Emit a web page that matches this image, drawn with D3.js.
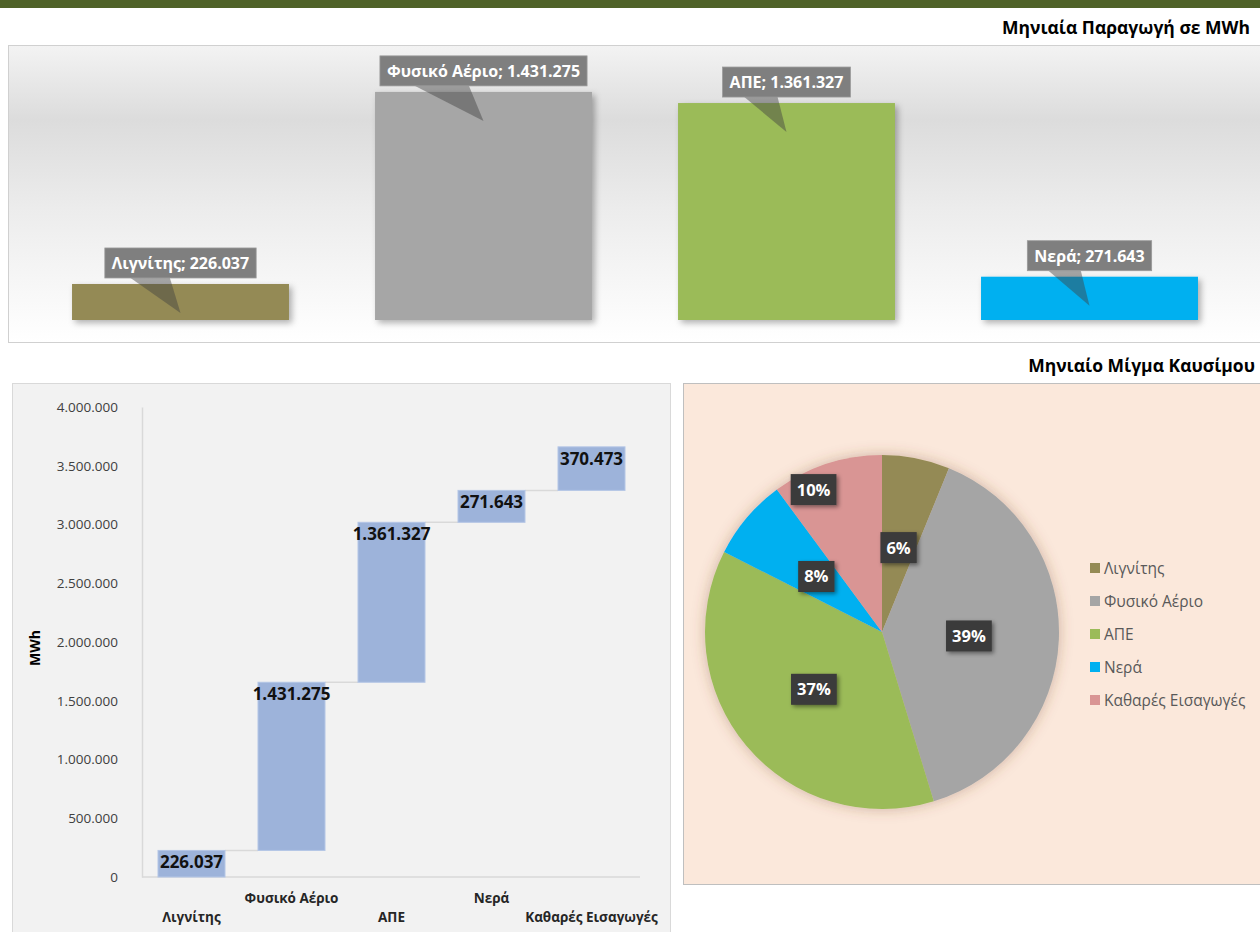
<!DOCTYPE html>
<html><head><meta charset="utf-8">
<script src="https://cdn.jsdelivr.net/npm/d3@7"></script>
<style>
html,body{margin:0;padding:0;background:#fff;}
svg{display:block;font-family:"Open Sans","Noto Sans",sans-serif;}
</style></head>
<body>
<svg id="c" width="1260" height="932"></svg>
<script>
// ---- data ----
const topCategories = ["Λιγνίτης", "Φυσικό Αέριο", "ΑΠΕ", "Νερά"];
const topValues = [226037, 1431275, 1361327, 271643];
const topColors = ["#948a54", "#a6a6a6", "#9bbb59", "#00b0f0"];

const wfCategories = ["Λιγνίτης", "Φυσικό Αέριο", "ΑΠΕ", "Νερά", "Καθαρές Εισαγωγές"];
const wfValues = [226037, 1431275, 1361327, 271643, 370473];
const wfTicks = [0, 500000, 1000000, 1500000, 2000000, 2500000, 3000000, 3500000, 4000000];

const pieCategories = ["Λιγνίτης", "Φυσικό Αέριο", "ΑΠΕ", "Νερά", "Καθαρές Εισαγωγές"];
const pieValues = [226037, 1431275, 1361327, 271643, 370473];
const pieLabels = ["6%", "39%", "37%", "8%", "10%"];
const pieColors = ["#948a54", "#a5a5a5", "#9bbb59", "#00b0f0", "#d99594"];

const title1 = "Μηνιαία Παραγωγή σε MWh";
const title2 = "Μηνιαίο Μίγμα Καυσίμου";

const loc = d3.formatLocale({decimal: ",", thousands: ".", grouping: [3], currency: ["", "€"]});
const fmt = loc.format(",d");

const svg = d3.select("#c");
const defs = svg.append("defs");
const g1 = defs.append("linearGradient").attr("id", "topbg").attr("x1", 0).attr("y1", 0).attr("x2", 0).attr("y2", 1);
g1.append("stop").attr("offset", "0%").attr("stop-color", "#f3f3f3");
g1.append("stop").attr("offset", "25%").attr("stop-color", "#dcdcdc");
g1.append("stop").attr("offset", "55%").attr("stop-color", "#ececec");
g1.append("stop").attr("offset", "100%").attr("stop-color", "#ffffff");
const sh = defs.append("filter").attr("id", "shadow").attr("x", "-20%").attr("y", "-20%").attr("width", "150%").attr("height", "150%");
sh.append("feDropShadow").attr("dx", 3).attr("dy", 3).attr("stdDeviation", 3).attr("flood-color", "#000").attr("flood-opacity", 0.3);
const glow = defs.append("filter").attr("id", "glow").attr("x", "-20%").attr("y", "-20%").attr("width", "140%").attr("height", "140%");
glow.append("feDropShadow").attr("dx", 0).attr("dy", 0).attr("stdDeviation", 7).attr("flood-color", "#7a4a2a").attr("flood-opacity", 0.35);
const lsh = defs.append("filter").attr("id", "lshadow").attr("x", "-30%").attr("y", "-30%").attr("width", "170%").attr("height", "170%");
lsh.append("feDropShadow").attr("dx", 2).attr("dy", 2).attr("stdDeviation", 2).attr("flood-color", "#000").attr("flood-opacity", 0.45);

// header strip
svg.append("rect").attr("x", 0).attr("y", 0).attr("width", 1260).attr("height", 8).attr("fill", "#4f6228");

svg.append("text").attr("x", 1250).attr("y", 34).attr("text-anchor", "end")
  .attr("font-size", 17.5).attr("font-weight", "bold").attr("fill", "#000").text(title1);

// ---- top bar chart ----
svg.append("rect").attr("x", 8.5).attr("y", 45.5).attr("width", 1260).attr("height", 297)
  .attr("fill", "url(#topbg)").attr("stroke", "#d0d0d0");

const xTop = d3.scaleBand().domain(topCategories).range([29, 1241]).paddingInner(0.284).paddingOuter(0.142);
const yTop = d3.scaleLinear().domain([0, 1600000]).range([320, 65]);

svg.append("g").selectAll("rect").data(topCategories).join("rect")
  .attr("x", d => xTop(d)).attr("width", xTop.bandwidth())
  .attr("y", (d, i) => yTop(topValues[i])).attr("height", (d, i) => yTop(0) - yTop(topValues[i]))
  .attr("fill", (d, i) => topColors[i]).attr("filter", "url(#shadow)");

const callouts = svg.append("g");
topCategories.forEach((c, i) => {
  const cx = xTop(c) + xTop.bandwidth() / 2;
  const top = yTop(topValues[i]);
  const txt = c + "; " + fmt(topValues[i]);
  const grp = callouts.append("g");
  const t = grp.append("text").attr("x", cx).attr("y", top - 15).attr("text-anchor", "middle")
    .attr("font-size", 16).attr("font-weight", "bold").attr("fill", "#fff").text(txt);
  const w = t.node().getComputedTextLength() + 14;
  const bx = cx - w / 2, by = top - 36, bh = 30;
  grp.insert("path", "text").attr("d", `M${bx + 0.17 * w},${by + bh} L${cx},${top + 29} L${bx + 0.43 * w},${by + bh} Z`)
    .attr("fill", "#404040").attr("fill-opacity", 0.45);
  grp.insert("rect", "text").attr("x", bx).attr("y", by).attr("width", w).attr("height", bh)
    .attr("fill", "#7f7f7f").attr("stroke", "#9a9a9a").attr("stroke-width", 0.8);
});

// second title
svg.append("text").attr("x", 1255).attr("y", 372).attr("text-anchor", "end")
  .attr("font-size", 17.5).attr("font-weight", "bold").attr("fill", "#000").text(title2);

// ---- waterfall ----
svg.append("rect").attr("x", 12.5).attr("y", 383.5).attr("width", 658).attr("height", 560)
  .attr("fill", "#f2f2f2").attr("stroke", "#d9d9d9");

const yW = d3.scaleLinear().domain([0, 4000000]).range([877, 407]);
const xW = d3.scaleBand().domain(wfCategories).range([141.5, 641.5]).paddingInner(0.33).paddingOuter(0.165);

const yAxis = d3.axisLeft(yW).tickValues(wfTicks).tickFormat(fmt).tickSize(0).tickPadding(24);
const ya = svg.append("g").attr("transform", "translate(142,0)").call(yAxis);
ya.select(".domain").attr("stroke", "#d9d9d9").attr("stroke-width", 1.5);
ya.selectAll("text").attr("font-size", 13.5).attr("fill", "#404040").attr("font-family", "'Open Sans',sans-serif");

svg.append("line").attr("x1", 142).attr("x2", 640).attr("y1", yW(0)).attr("y2", yW(0))
  .attr("stroke", "#d9d9d9").attr("stroke-width", 1.5);

svg.append("text").attr("transform", `translate(40,${(yW(0) + yW(4000000)) / 2 + 6}) rotate(-90)`)
  .attr("text-anchor", "middle").attr("font-size", 14).attr("font-weight", "bold").attr("fill", "#000").text("MWh");

const cum = [];
wfValues.reduce((acc, v, i) => { cum.push([acc, acc + v]); return acc + v; }, 0);

// connectors
svg.append("g").selectAll("line").data(wfCategories.slice(0, -1)).join("line")
  .attr("x1", d => xW(d) + xW.bandwidth())
  .attr("x2", (d, i) => xW(wfCategories[i + 1]))
  .attr("y1", (d, i) => yW(cum[i][1])).attr("y2", (d, i) => yW(cum[i][1]))
  .attr("stroke", "#d9d9d9").attr("stroke-width", 1.5);

svg.append("g").selectAll("rect").data(wfCategories).join("rect")
  .attr("x", d => xW(d)).attr("width", xW.bandwidth())
  .attr("y", (d, i) => yW(cum[i][1])).attr("height", (d, i) => yW(cum[i][0]) - yW(cum[i][1]))
  .attr("fill", "#9db3da").attr("stroke", "#b4c6e6").attr("stroke-width", 1);

svg.append("g").selectAll("text").data(wfCategories).join("text")
  .attr("x", d => xW(d) + xW.bandwidth() / 2).attr("y", (d, i) => yW(cum[i][1]) + 18)
  .attr("text-anchor", "middle").attr("font-size", 17).attr("font-weight", "bold").attr("fill", "#111")
  .text((d, i) => fmt(wfValues[i]));

svg.append("g").selectAll("text").data(wfCategories).join("text")
  .attr("x", d => xW(d) + xW.bandwidth() / 2).attr("y", (d, i) => i % 2 === 0 ? 922 : 903)
  .attr("text-anchor", "middle").attr("font-size", 13.5).attr("font-weight", "bold").attr("fill", "#262626")
  .text(d => d);

// ---- pie ----
svg.append("rect").attr("x", 683.5).attr("y", 383.5).attr("width", 600).attr("height", 501)
  .attr("fill", "#fbe8db").attr("stroke", "#bfbfbf");

const cx = 882, cy = 632, R = 177;
const pie = d3.pie().sort(null).value(d => d)(pieValues);
const arc = d3.arc().innerRadius(0).outerRadius(R);
const pg = svg.append("g").attr("transform", `translate(${cx},${cy})`);
pg.append("g").attr("filter", "url(#glow)").selectAll("path").data(pie).join("path")
  .attr("d", arc).attr("fill", (d, i) => pieColors[i]);

const labelR = [86, 87, 89, 86, 158];
pie.forEach((d, i) => {
  const a = (d.startAngle + d.endAngle) / 2 - (i === 4 ? 0.13 : 0);
  const lx = Math.sin(a) * labelR[i], ly = -Math.cos(a) * labelR[i];
  const lg = pg.append("g");
  const t = lg.append("text").attr("x", lx).attr("y", ly + 6).attr("text-anchor", "middle")
    .attr("font-size", 16.5).attr("font-weight", "bold").attr("fill", "#fff").text(pieLabels[i]);
  const w = t.node().getComputedTextLength() + 12;
  lg.insert("rect", "text").attr("x", lx - w / 2).attr("y", ly - 15.5).attr("width", w).attr("height", 31)
    .attr("fill", "#3a3a3a").attr("filter", "url(#lshadow)");
});

const lgd = svg.append("g").selectAll("g").data(pieCategories).join("g")
  .attr("transform", (d, i) => `translate(1090,${568 + i * 33})`);
lgd.append("rect").attr("x", 0).attr("y", -5).attr("width", 10).attr("height", 10).attr("fill", (d, i) => pieColors[i]);
lgd.append("text").attr("x", 14).attr("y", 5.5).attr("font-size", 15.5).attr("fill", "#595959").text(d => d);
</script>
</body></html>
